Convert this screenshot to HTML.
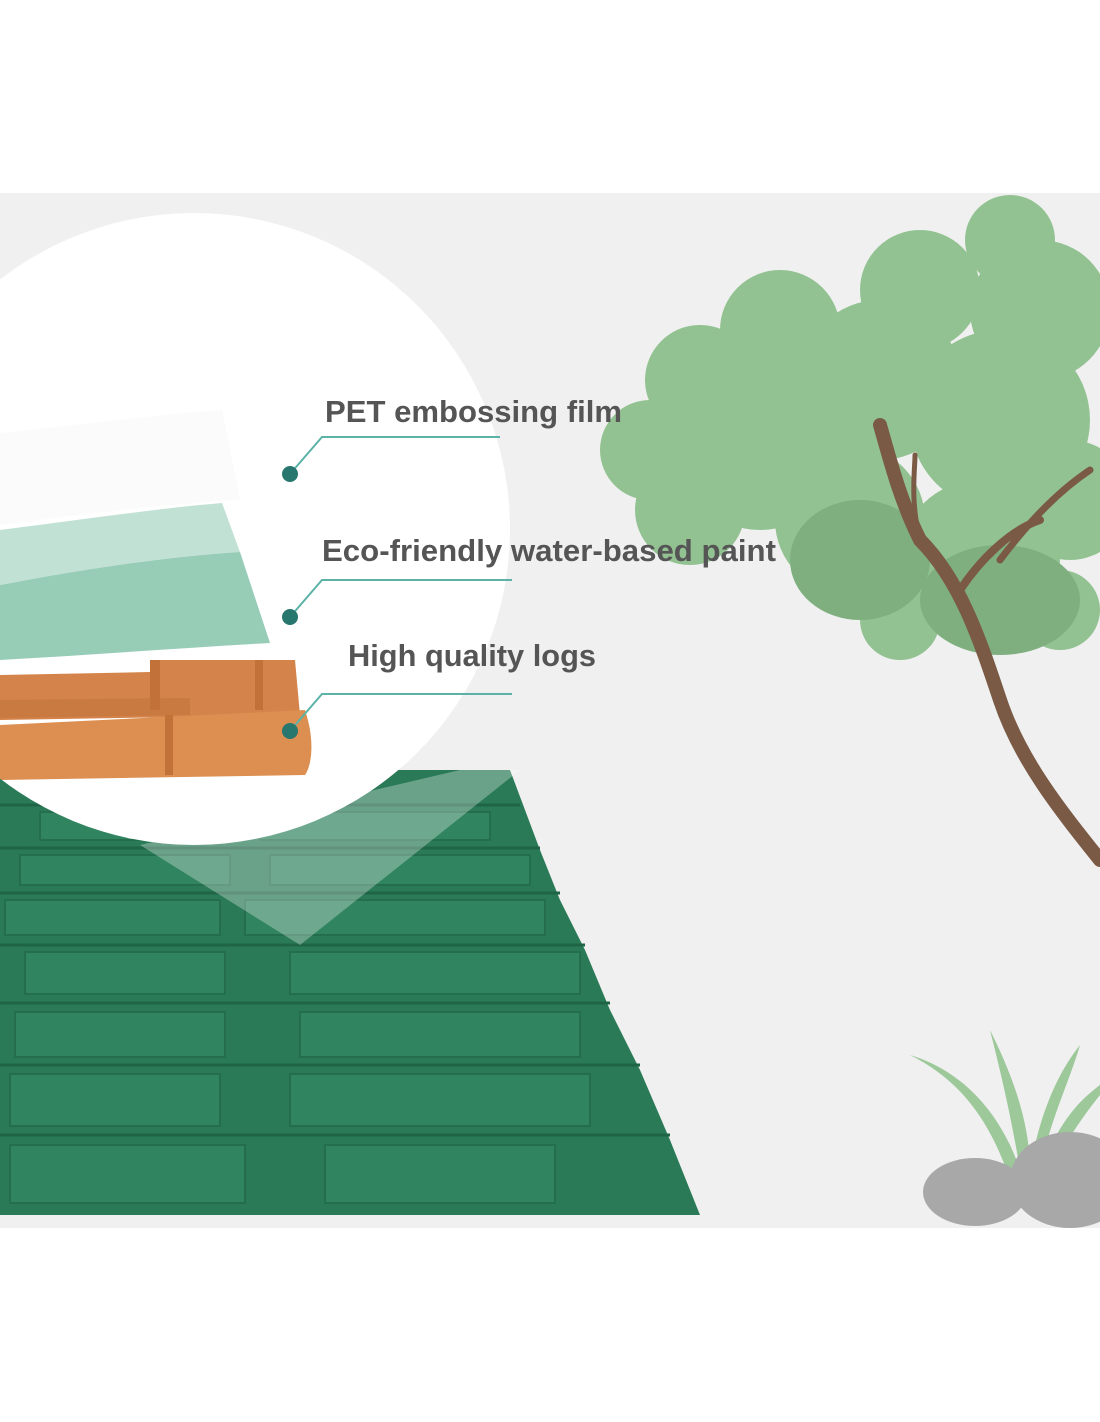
<!DOCTYPE html>
<html><head><style>
html,body{margin:0;padding:0;background:#fff;}
svg{display:block}
</style></head><body>
<svg width="1100" height="1422" viewBox="0 0 1100 1422" xmlns="http://www.w3.org/2000/svg">
<defs>
<clipPath id="circ"><circle cx="194" cy="529" r="316"/></clipPath>
</defs>
<rect x="0" y="0" width="1100" height="1422" fill="#fff"/>
<rect x="0" y="193" width="1100" height="1035" fill="#f0f0f0"/>

<!-- tree foliage -->
<g fill="#93c292">
<circle cx="1010" cy="240" r="45"/><circle cx="920" cy="290" r="60"/><circle cx="1040" cy="310" r="70"/>
<circle cx="780" cy="330" r="60"/><circle cx="700" cy="380" r="55"/><circle cx="880" cy="380" r="80"/>
<circle cx="1000" cy="420" r="90"/><circle cx="650" cy="450" r="50"/><circle cx="760" cy="450" r="80"/>
<circle cx="690" cy="510" r="55"/><circle cx="850" cy="520" r="75"/><circle cx="980" cy="560" r="80"/>
<circle cx="1070" cy="500" r="60"/><circle cx="900" cy="620" r="40"/><circle cx="1060" cy="610" r="40"/>
</g>
<g fill="#7faf7f">
<ellipse cx="860" cy="560" rx="70" ry="60"/><ellipse cx="1000" cy="600" rx="80" ry="55"/>
</g>
<g fill="none" stroke="#7a5a45" stroke-linecap="round">
<path d="M1100 860 C1060 810 1020 760 1000 700 C980 640 960 580 920 540 C900 500 890 460 880 425" stroke-width="14"/>
<path d="M960 590 C980 560 1010 530 1040 520" stroke-width="8"/>
<path d="M1000 560 C1030 520 1060 490 1090 470" stroke-width="7"/>
<path d="M920 540 C910 500 915 470 915 455" stroke-width="5"/>
</g>

<!-- plant & rocks -->
<g fill="#9cc89a">
<path d="M1010 1180 C990 1120 960 1080 910 1055 C960 1070 1000 1110 1020 1170Z"/>
<path d="M1020 1170 C1010 1110 1000 1070 990 1030 C1010 1070 1030 1120 1030 1170Z"/>
<path d="M1030 1170 C1040 1110 1060 1070 1080 1045 C1070 1080 1050 1120 1040 1170Z"/>
<path d="M1040 1170 C1060 1120 1080 1100 1100 1085 L1100 1095 C1080 1120 1060 1150 1050 1175Z"/>
</g>
<g fill="#a8a8a8">
<ellipse cx="975" cy="1192" rx="52" ry="34"/>
<ellipse cx="1070" cy="1180" rx="60" ry="48"/>
</g>
<rect x="900" y="1228" width="200" height="12" fill="#fff"/>

<!-- green brick panel -->
<g>
<path d="M0 770 L510 770 L540 850 L560 900 L585 950 L610 1010 L640 1070 L670 1140 L700 1215 L0 1215Z" fill="#2a7a57"/>
<g stroke="#1f6446" stroke-width="3" fill="none">
<path d="M0 805 L520 805"/><path d="M0 848 L540 848"/><path d="M0 893 L560 893"/><path d="M0 945 L585 945"/>
<path d="M0 1003 L610 1003"/><path d="M0 1065 L640 1065"/><path d="M0 1135 L670 1135"/>
</g>
<g fill="#30845f" stroke="#246e4d" stroke-width="2">
<rect x="40" y="812" width="190" height="28"/><rect x="260" y="812" width="230" height="28"/>
<rect x="20" y="855" width="210" height="30"/><rect x="270" y="855" width="260" height="30"/>
<rect x="5" y="900" width="215" height="35"/><rect x="245" y="900" width="300" height="35"/>
<rect x="25" y="952" width="200" height="42"/><rect x="290" y="952" width="290" height="42"/>
<rect x="15" y="1012" width="210" height="45"/><rect x="300" y="1012" width="280" height="45"/>
<rect x="10" y="1074" width="210" height="52"/><rect x="290" y="1074" width="300" height="52"/>
<rect x="10" y="1145" width="235" height="58"/><rect x="325" y="1145" width="230" height="58"/>
</g>
</g>

<!-- white circle -->
<circle cx="194" cy="529" r="316" fill="#fff"/>
<path d="M140 845 L300 945 L520 770 L460 770Z" fill="#fff" opacity="0.3"/>
<g clip-path="url(#circ)">
<path d="M0 433 C80 425 150 415 222 410 L240 500 C150 505 80 515 0 525Z" fill="#fbfbfb"/>
<path d="M0 530 C80 520 160 508 222 503 L240 552 C150 558 70 572 0 585Z" fill="#c2e1d5"/>
<path d="M0 585 C70 572 150 558 240 552 L270 643 C180 648 90 655 0 660Z" fill="#97ccb7"/>
<path d="M0 675 L150 672 L155 660 L295 660 L300 715 L0 720Z" fill="#d4844a"/>
<path d="M0 700 L190 698 L190 715 L0 718Z" fill="#c97a40"/>
<path d="M0 725 L305 710 C315 740 312 765 305 775 L0 780Z" fill="#dc8f50"/>
<rect x="150" y="660" width="10" height="50" fill="#c27238"/>
<rect x="255" y="660" width="8" height="50" fill="#c27238"/>
<rect x="165" y="715" width="8" height="60" fill="#c27238"/>
</g>

<!-- callouts -->
<g stroke="#5bb3a7" stroke-width="2" fill="none">
<path d="M290 474 L322 437 L500 437"/>
<path d="M290 617 L322 580 L512 580"/>
<path d="M290 731 L322 694 L512 694"/>
</g>
<g fill="#27776f">
<circle cx="290" cy="474" r="8"/><circle cx="290" cy="617" r="8"/><circle cx="290" cy="731" r="8"/>
</g>
<g font-family="'Liberation Sans Narrow','Liberation Sans',sans-serif" font-size="31" fill="#555" font-weight="bold">
<text x="325" y="422" textLength="297" lengthAdjust="spacingAndGlyphs">PET embossing film</text>
<text x="322" y="561" textLength="454" lengthAdjust="spacingAndGlyphs">Eco-friendly water-based paint</text>
<text x="348" y="666" textLength="248" lengthAdjust="spacingAndGlyphs">High quality logs</text>
</g>
</svg>
</body></html>
